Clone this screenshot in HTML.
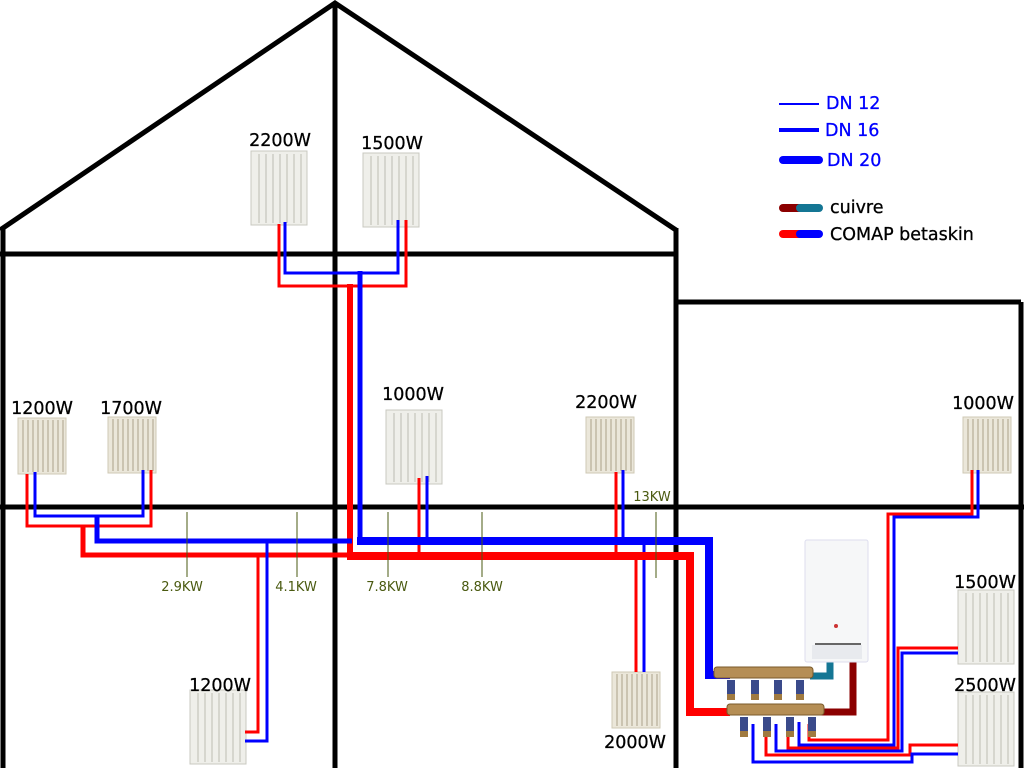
<!DOCTYPE html>
<html><head><meta charset="utf-8"><style>
html,body{margin:0;padding:0;background:#fff;}
svg{display:block;font-family:"DejaVu Sans",sans-serif;}
</style></head><body>
<svg width="1024" height="768" viewBox="0 0 1024 768" xmlns="http://www.w3.org/2000/svg">
<defs>
<g id="rad">
<rect x="0" y="0" width="56" height="74" fill="#efefea" stroke="#c8c8c0" stroke-width="1"/>
<g stroke="#c4c4bb" stroke-width="1.2">
<line x1="8" y1="3" x2="8" y2="72"/><line x1="15" y1="3" x2="15" y2="72"/><line x1="22" y1="3" x2="22" y2="72"/><line x1="29" y1="3" x2="29" y2="72"/><line x1="36" y1="3" x2="36" y2="72"/><line x1="43" y1="3" x2="43" y2="72"/><line x1="50" y1="3" x2="50" y2="72"/>
</g>
</g>
<g id="rad2">
<rect x="0" y="0" width="48" height="56" fill="#ebe7da" stroke="#cfc9b5" stroke-width="1"/>
<g stroke="#bdb6a0" stroke-width="1.4">
<line x1="5" y1="2" x2="5" y2="54"/><line x1="10" y1="2" x2="10" y2="54"/><line x1="15" y1="2" x2="15" y2="54"/><line x1="20" y1="2" x2="20" y2="54"/><line x1="25" y1="2" x2="25" y2="54"/><line x1="30" y1="2" x2="30" y2="54"/><line x1="35" y1="2" x2="35" y2="54"/><line x1="40" y1="2" x2="40" y2="54"/><line x1="45" y1="2" x2="45" y2="54"/>
</g>
</g>
</defs>

<!-- house -->
<g stroke="#000" stroke-width="5" fill="none">
<polyline points="0,230 335,3 676,230"/>
<line x1="3" y1="228" x2="3" y2="768"/>
<line x1="676" y1="228" x2="676" y2="768"/>
<line x1="335" y1="3" x2="335" y2="768"/>
<line x1="0" y1="254" x2="676" y2="254"/>
<line x1="0" y1="507" x2="1024" y2="507"/>
<line x1="676" y1="302" x2="1021" y2="302"/>
<line x1="1021" y1="302" x2="1021" y2="768"/>
</g>

<!-- radiators -->
<use href="#rad" x="251" y="151"/>
<use href="#rad" x="363" y="153"/>
<use href="#rad" x="386" y="410"/>
<use href="#rad" x="190" y="690"/>
<use href="#rad" x="958" y="590"/>
<use href="#rad" x="958" y="692"/>
<use href="#rad2" x="18" y="418"/>
<use href="#rad2" x="108" y="417"/>
<use href="#rad2" x="586" y="417"/>
<use href="#rad2" x="963" y="417"/>
<use href="#rad2" x="612" y="672"/>

<!-- labels -->
<g font-size="17.5" fill="#000" text-anchor="middle" stroke="#000" stroke-width="0.3">
<text x="280" y="146">2200W</text>
<text x="392" y="149">1500W</text>
<text x="42" y="414">1200W</text>
<text x="131" y="414">1700W</text>
<text x="413" y="400">1000W</text>
<text x="606" y="408">2200W</text>
<text x="983" y="409">1000W</text>
<text x="985" y="588">1500W</text>
<text x="985" y="691">2500W</text>
<text x="220" y="691">1200W</text>
<text x="635" y="748">2000W</text>
</g>

<!-- pipes -->
<g fill="none" stroke-linejoin="miter">
<polyline points="285,222 285,273 398,273 398,220" stroke="#00f" stroke-width="3"/>
<polyline points="279,224 279,286 406,286 406,220" stroke="#f00" stroke-width="3"/>
<line x1="360" y1="271" x2="360" y2="542" stroke="#00f" stroke-width="5"/>
<line x1="350" y1="284" x2="350" y2="556" stroke="#f00" stroke-width="6"/>
<polyline points="35,472 35,516 143,516 143,470" stroke="#00f" stroke-width="3"/>
<polyline points="27,474 27,526 151,526 151,470" stroke="#f00" stroke-width="3"/>
<polyline points="97,516 97,541 352,541" stroke="#00f" stroke-width="5"/>
<polyline points="83,526 83,555 350,555" stroke="#f00" stroke-width="5"/>
<polyline points="258,555 258,732 245,732" stroke="#f00" stroke-width="3"/>
<polyline points="267,541 267,741 245,741" stroke="#00f" stroke-width="3"/>
<line x1="419" y1="478" x2="419" y2="555" stroke="#f00" stroke-width="3"/>
<line x1="427" y1="476" x2="427" y2="541" stroke="#00f" stroke-width="3"/>
<line x1="616" y1="472" x2="616" y2="555" stroke="#f00" stroke-width="3"/>
<line x1="623" y1="470" x2="623" y2="541" stroke="#00f" stroke-width="3"/>
<line x1="636" y1="555" x2="636" y2="672" stroke="#f00" stroke-width="3"/>
<line x1="644" y1="542" x2="644" y2="672" stroke="#00f" stroke-width="3"/>
<polyline points="357,541 709,541 709,675 730,675" stroke="#00f" stroke-width="8"/>
<polyline points="347,556 690,556 690,712 730,712" stroke="#f00" stroke-width="8"/>
<polyline points="972,470 972,514 888,514 888,740 809,740 809,724" stroke="#f00" stroke-width="3"/>
<polyline points="978,470 978,517 894,517 894,745 799,745 799,722" stroke="#00f" stroke-width="3"/>
<polyline points="958,648 898,648 898,748 788,748 788,724" stroke="#f00" stroke-width="3"/>
<polyline points="958,653 902,653 902,751 776,751 776,724" stroke="#00f" stroke-width="3"/>
<polyline points="958,745 910,745 910,755 766,755 766,724" stroke="#f00" stroke-width="3"/>
<polyline points="958,754 912,754 912,762 753,762 753,724" stroke="#00f" stroke-width="3"/>
<polyline points="830,660 830,676 810,676" stroke="#147694" stroke-width="7"/>
<polyline points="853,660 853,712 820,712" stroke="#8b0000" stroke-width="7"/>
</g>

<!-- kW markers -->
<g stroke="#4a5a10" stroke-width="1">
<line x1="187" y1="512" x2="187" y2="577"/>
<line x1="297" y1="512" x2="297" y2="577"/>
<line x1="388" y1="512" x2="388" y2="577"/>
<line x1="482" y1="512" x2="482" y2="577"/>
<line x1="656" y1="512" x2="656" y2="578"/>
</g>
<g font-size="13" fill="#4a5a10" text-anchor="middle">
<text x="182" y="591">2.9KW</text>
<text x="296" y="591">4.1KW</text>
<text x="387" y="591">7.8KW</text>
<text x="482" y="591">8.8KW</text>
<text x="652" y="501">13KW</text>
</g>

<!-- boiler -->
<rect x="805" y="540" width="63" height="122" fill="#f6f7f8" stroke="#dde" stroke-width="1" rx="2"/>
<rect x="812" y="645" width="50" height="14" fill="#e8eaee"/>
<rect x="815" y="643" width="46" height="2" fill="#666"/>
<circle cx="836" cy="626" r="2" fill="#c33"/>

<!-- manifolds -->
<g fill="#b58e55" stroke="#7a5a2a" stroke-width="1">
<rect x="714" y="667" width="99" height="11" rx="3"/>
<rect x="727" y="704" width="97" height="11" rx="3"/>
</g>
<g fill="#3a4a8a">
<rect x="727" y="680" width="8" height="14"/><rect x="751" y="680" width="8" height="14"/><rect x="774" y="680" width="8" height="14"/><rect x="796" y="680" width="8" height="14"/>
<rect x="740" y="717" width="8" height="14"/><rect x="763" y="717" width="8" height="14"/><rect x="786" y="717" width="8" height="14"/><rect x="808" y="717" width="8" height="14"/>
</g>
<g fill="#a07a40">
<rect x="727" y="694" width="8" height="6"/><rect x="751" y="694" width="8" height="6"/><rect x="774" y="694" width="8" height="6"/><rect x="796" y="694" width="8" height="6"/>
<rect x="740" y="731" width="8" height="6"/><rect x="763" y="731" width="8" height="6"/><rect x="786" y="731" width="8" height="6"/><rect x="808" y="731" width="8" height="6"/>
</g>

<!-- legend -->
<g stroke-linecap="round">
<line x1="779" y1="104" x2="819" y2="104" stroke="#00f" stroke-width="2" stroke-linecap="butt"/>
<line x1="779" y1="130" x2="819" y2="130" stroke="#00f" stroke-width="4" stroke-linecap="butt"/>
<line x1="783" y1="160" x2="819" y2="160" stroke="#00f" stroke-width="8"/>
<line x1="783" y1="208" x2="800" y2="208" stroke="#8b0000" stroke-width="8"/>
<line x1="800" y1="208" x2="819" y2="208" stroke="#147694" stroke-width="8"/>
<line x1="783" y1="234" x2="800" y2="234" stroke="#f00" stroke-width="8"/>
<line x1="800" y1="234" x2="819" y2="234" stroke="#00f" stroke-width="8"/>
</g>
<g font-size="17.5" stroke-width="0.3">
<text x="826" y="109" fill="#00f" stroke="#00f">DN 12</text>
<text x="825" y="136" fill="#00f" stroke="#00f">DN 16</text>
<text x="827" y="166" fill="#00f" stroke="#00f">DN 20</text>
<text x="830" y="213" fill="#000" stroke="#000">cuivre</text>
<text x="830" y="240" fill="#000" stroke="#000">COMAP betaskin</text>
</g>
</svg>
</body></html>
